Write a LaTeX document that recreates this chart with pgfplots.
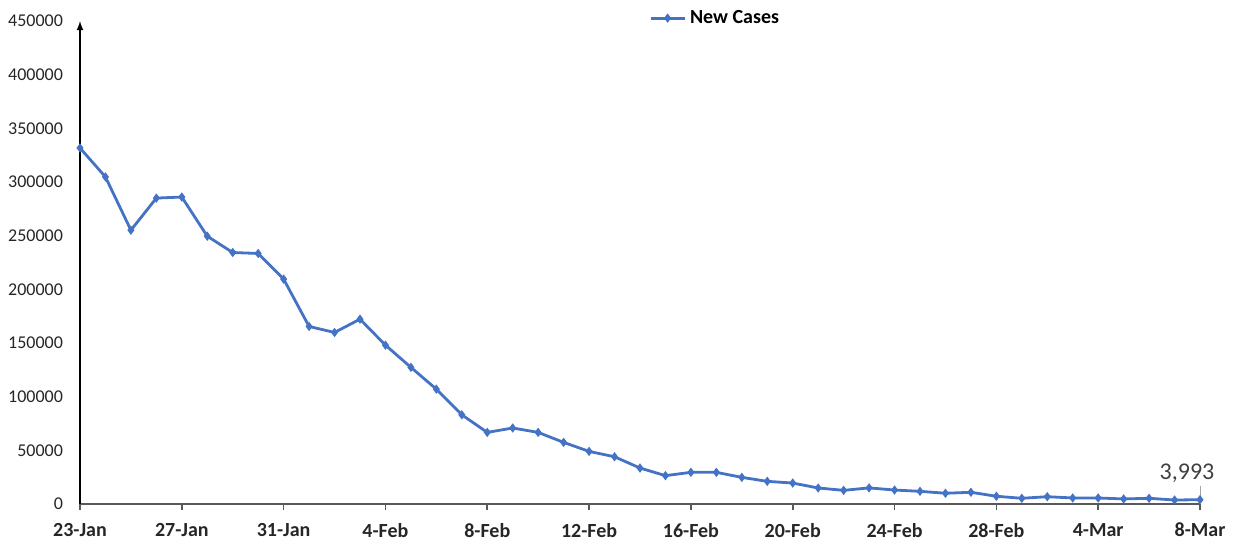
\documentclass[border=0pt]{standalone}
\usepackage{pgfplots}
\pgfplotsset{compat=1.18}
\usepackage{fontspec}
\setmainfont{Carlito}
\definecolor{lineblue}{RGB}{68,114,196}
\definecolor{axgray}{RGB}{89,89,89}
\begin{document}
\begin{tikzpicture}
\useasboundingbox (-40pt,-20pt) rectangle (579.5pt,252pt);
\begin{axis}[
  at={(0,0)}, anchor=south west,
  scale only axis, width=560pt, height=241.5pt,
  xmin=0, xmax=44, ymin=0, ymax=450000,
  axis lines=left,
  x axis line style={-, axgray, line width=1.2pt},
  y axis line style={-latex, black, line width=0.6pt},
  xtick={0,4,...,44},
  xticklabels={23-Jan,27-Jan,31-Jan,4-Feb,8-Feb,12-Feb,16-Feb,20-Feb,24-Feb,28-Feb,4-Mar,8-Mar},
  xticklabel style={font=\bfseries\fontsize{10}{12}\selectfont, text=black!85, yshift=-3pt},
  x tick style={axgray, line width=0.8pt},
  tick align=outside,
  major tick length=3pt,
  ytick={0,50000,...,450000},
  y tick style={draw=none},
  yticklabel style={font=\fontsize{9}{11}\selectfont, text=black!85, xshift=-2pt},
  scaled y ticks=false,
  /pgf/number format/assume math mode=true,
  yticklabel={\pgfmathprintnumber[fixed,1000 sep={}]{\tick}},
  clip=false,
  legend style={at={(0.568,1.006)}, anchor=center, draw=none, fill=none,
    font=\fontsize{10}{12}\selectfont, inner sep=1pt},
  legend cell align=left,
  legend image code/.code={\draw[#1] (-2pt,0pt) -- (15pt,0pt); \draw[#1, mark repeat=1] plot coordinates {(6.5pt,0pt)};},
]
\addplot[color=lineblue, line width=1.4pt, mark=diamond*, mark size=1.2pt, mark options={fill=lineblue}] coordinates {
(0,331700) (1,304700) (2,255100) (3,285000) (4,286000) (5,249500) (6,234300) (7,233400)
(8,209500) (9,165400) (10,159800) (11,172200) (12,148000) (13,127300) (14,107000) (15,83100)
(16,66700) (17,70800) (18,66700) (19,57400) (20,49000) (21,44000) (22,33500) (23,26400)
(24,29500) (25,29500) (26,24800) (27,21100) (28,19500) (29,14900) (30,12700) (31,15000)
(32,13000) (33,11800) (34,10000) (35,10900) (36,7200) (37,5300) (38,6800) (39,5600)
(40,5600) (41,4700) (42,5300) (43,3700) (44,3993)
};
\addlegendentry{\textbf{New Cases}}
\draw[gray!70, line width=0.4pt] (axis cs:44,3993) -- ++(0pt,7pt);
\node[font=\fontsize{12}{14}\selectfont, text=black!75] at ([xshift=-6.5pt,yshift=13pt]axis cs:44,3993) {3,993};
\end{axis}
\end{tikzpicture}
\end{document}
